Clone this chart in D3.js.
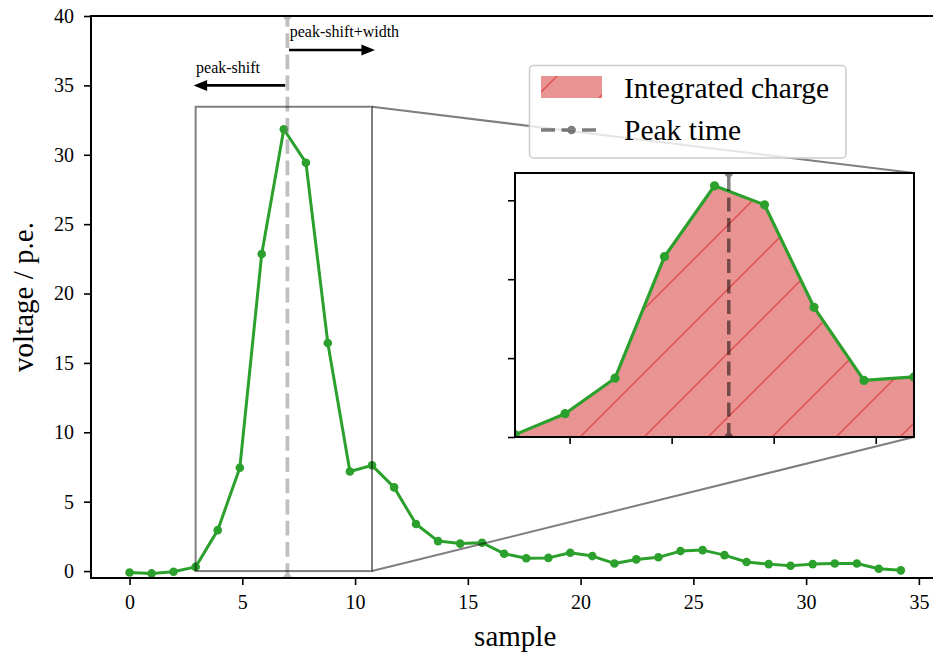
<!DOCTYPE html>
<html><head><meta charset="utf-8">
<script src="https://cdn.jsdelivr.net/npm/d3@7"></script>
<style>
html,body{margin:0;padding:0;background:#fff;}
svg{display:block;font-family:"Liberation Serif","DejaVu Serif",serif;}
</style></head><body>
<svg id="chart" width="933" height="658"></svg>
<script>
// Sample positions and the recorded pulse (voltage in p.e.)
const sampleX = [0, 0.98, 1.95, 2.93, 3.91, 4.89, 5.86, 6.84, 7.82, 8.79, 9.77, 10.75,
  11.73, 12.70, 13.68, 14.66, 15.63, 16.61, 17.59, 18.57, 19.54, 20.52, 21.50, 22.47,
  23.45, 24.43, 25.41, 26.38, 27.36, 28.34, 29.31, 30.29, 31.27, 32.25, 33.22, 34.20];
const voltage = [-0.1, -0.17, -0.05, 0.3, 2.95, 7.45, 22.85, 31.84, 29.43, 16.44, 7.17, 7.62,
  6.03, 3.39, 2.16, 1.98, 2.04, 1.25, 0.92, 0.95, 1.32, 1.08, 0.55, 0.84,
  0.99, 1.44, 1.51, 1.15, 0.65, 0.5, 0.38, 0.5, 0.55, 0.55, 0.17, 0.05];

const xTicks = [0, 5, 10, 15, 20, 25, 30, 35];
const yTicks = [0, 5, 10, 15, 20, 25, 30, 35, 40];
const insetXTicks = [4, 6, 8, 10];
const insetYTicks = [0, 10, 20, 30];

// Peak time as drawn in the main panel and in the zoomed panel
const peakTimeMain = 7.0;
const peakTimeInset = 7.12;
// Integration window (sample indices) and the zoom box top
const windowStart = 3, windowEnd = 11;
const zoomTop = 33.46;
// Annotation arrows: [from, to, y]
const shiftArrow = [6.9, 2.84, 35.0];
const widthArrow = [7.07, 10.88, 37.55];
const arrowLabels = ["peak-shift", "peak-shift+width"];
const legendLabels = ["Integrated charge", "Peak time"];

const svg = d3.select("#chart");
const plot = {left: 91, right: 939.4, top: 16, bottom: 578};
const x = d3.scaleLinear().domain([-1.71, 35.91]).range([plot.left, plot.right]);
const y = d3.scaleLinear().domain([-0.5, 40]).range([plot.bottom, plot.top]);

const defs = svg.append("defs");
defs.append("clipPath").attr("id", "mainClip").append("rect")
  .attr("x", plot.left).attr("y", plot.top)
  .attr("width", plot.right - plot.left).attr("height", plot.bottom - plot.top);

const inset = {x0: 515, y0: 173, x1: 914, y1: 437};
defs.append("clipPath").attr("id", "insetClip").append("rect")
  .attr("x", inset.x0).attr("y", inset.y0)
  .attr("width", inset.x1 - inset.x0).attr("height", inset.y1 - inset.y0);

// "/" hatch
const hatch = defs.append("pattern").attr("id", "hatch")
  .attr("patternUnits", "userSpaceOnUse").attr("x", 57).attr("y", 0)
  .attr("width", 64).attr("height", 64);
hatch.append("path")
  .attr("d", "M0,64 L64,0 M-4,4 L4,-4 M60,68 L68,60")
  .attr("stroke", "#d62728").attr("stroke-opacity", 0.6).attr("stroke-width", 1.5);

const red = "#d62728", green = "#2ca02c";

// ---- main panel ----
const main = svg.append("g").attr("clip-path", "url(#mainClip)");
const line = d3.line().x((d, i) => x(sampleX[i])).y(d => y(d));
main.append("path").datum(voltage).attr("d", line)
  .attr("fill", "none").attr("stroke", green).attr("stroke-width", 3)
  .attr("stroke-linejoin", "round");
main.selectAll("circle.pt").data(voltage).join("circle").attr("class", "pt")
  .attr("cx", (d, i) => x(sampleX[i])).attr("cy", d => y(d)).attr("r", 4.3)
  .attr("fill", green);

// peak time marker line
const pkMain = main.append("g").attr("opacity", 0.5);
pkMain.append("line").attr("x1", x(peakTimeMain)).attr("x2", x(peakTimeMain))
  .attr("y1", y(-0.5)).attr("y2", y(40))
  .attr("stroke", "#808080").attr("stroke-width", 3.7).attr("stroke-dasharray", "14.8,6.4");
pkMain.selectAll("circle").data([-0.5, 40]).join("circle")
  .attr("cx", x(peakTimeMain)).attr("cy", d => y(d)).attr("r", 4.2).attr("fill", "#808080");

// zoom box in the main panel
const x0z = sampleX[windowStart], x1z = sampleX[windowEnd];
svg.append("rect").attr("x", x(x0z)).attr("y", y(zoomTop))
  .attr("width", x(x1z) - x(x0z)).attr("height", y(0) - y(zoomTop))
  .attr("fill", "none").attr("stroke", "#000").attr("stroke-opacity", 0.5).attr("stroke-width", 2);

// connectors
svg.append("line").attr("x1", x(x1z)).attr("y1", y(zoomTop)).attr("x2", inset.x1).attr("y2", inset.y0)
  .attr("stroke", "#000").attr("stroke-opacity", 0.5).attr("stroke-width", 2);
svg.append("line").attr("x1", x(x1z)).attr("y1", y(0)).attr("x2", inset.x1).attr("y2", inset.y1)
  .attr("stroke", "#000").attr("stroke-opacity", 0.5).attr("stroke-width", 2);

// axes
const tickFont = 20;
const xAxis = svg.append("g").attr("transform", `translate(0,${plot.bottom})`)
  .call(d3.axisBottom(x).tickValues(xTicks).tickSize(7).tickPadding(10).tickFormat(d3.format("d")));
const yAxis = svg.append("g").attr("transform", `translate(${plot.left},0)`)
  .call(d3.axisLeft(y).tickValues(yTicks).tickSize(7).tickPadding(10).tickFormat(d3.format("d")));
[xAxis, yAxis].forEach(a => {
  a.select(".domain").remove();
  a.selectAll(".tick line").attr("stroke", "#000").attr("stroke-width", 1.6);
  a.selectAll(".tick text").attr("fill", "#000").style("font-size", tickFont + "px")
    .style("font-family", '"Liberation Serif", serif');
});
// spines
const spine = svg.append("g").attr("stroke", "#000").attr("stroke-width", 2).attr("stroke-linecap", "square");
spine.append("line").attr("x1", plot.left).attr("x2", plot.left).attr("y1", plot.top).attr("y2", plot.bottom);
spine.append("line").attr("x1", plot.left).attr("x2", plot.right).attr("y1", plot.bottom).attr("y2", plot.bottom);
spine.append("line").attr("x1", plot.left).attr("x2", plot.right).attr("y1", plot.top).attr("y2", plot.top);
spine.append("line").attr("x1", plot.right).attr("x2", plot.right).attr("y1", plot.top).attr("y2", plot.bottom);

// axis titles
svg.append("text").attr("x", (plot.left + plot.right) / 2).attr("y", 646)
  .attr("text-anchor", "middle").style("font-size", "29px").text("sample");
svg.append("text").attr("transform", `translate(33,${(plot.top + plot.bottom) / 2}) rotate(-90)`)
  .attr("text-anchor", "middle").style("font-size", "29px").text("voltage / p.e.");

// ---- inset panel ----
const xi = d3.scaleLinear().domain([x0z, x1z]).range([inset.x0, inset.x1]);
const yi = d3.scaleLinear().domain([0, zoomTop]).range([inset.y1, inset.y0]);
svg.append("rect").attr("x", inset.x0).attr("y", inset.y0)
  .attr("width", inset.x1 - inset.x0).attr("height", inset.y1 - inset.y0).attr("fill", "#fff");
const ig = svg.append("g").attr("clip-path", "url(#insetClip)");
const win = d3.range(windowStart, windowEnd + 1);
const area = d3.area().x(i => xi(sampleX[i])).y0(yi(0)).y1(i => yi(voltage[i]));
ig.append("path").datum(win).attr("d", area).attr("fill", red).attr("fill-opacity", 0.5);
ig.append("path").datum(win).attr("d", area).attr("fill", "url(#hatch)");
const lineI = d3.line().x((d, i) => xi(sampleX[i])).y(d => yi(d));
ig.append("path").datum(voltage).attr("d", lineI)
  .attr("fill", "none").attr("stroke", green).attr("stroke-width", 3.2).attr("stroke-linejoin", "round");
ig.selectAll("circle.pt").data(voltage).join("circle").attr("class", "pt")
  .attr("cx", (d, i) => xi(sampleX[i])).attr("cy", d => yi(d)).attr("r", 4.6).attr("fill", green);
const pkIn = ig.append("g").attr("opacity", 0.5);
pkIn.append("line").attr("x1", xi(peakTimeInset)).attr("x2", xi(peakTimeInset))
  .attr("y1", yi(0)).attr("y2", yi(zoomTop))
  .attr("stroke", "#000").attr("stroke-width", 3.5).attr("stroke-dasharray", "14,6.5");
pkIn.selectAll("circle").data([0, zoomTop]).join("circle")
  .attr("cx", xi(peakTimeInset)).attr("cy", d => yi(d)).attr("r", 4.2).attr("fill", "#000");

const ixAxis = svg.append("g").attr("transform", `translate(0,${inset.y1})`)
  .call(d3.axisBottom(xi).tickValues(insetXTicks).tickSize(7).tickFormat(""));
const iyAxis = svg.append("g").attr("transform", `translate(${inset.x0},0)`)
  .call(d3.axisLeft(yi).tickValues(insetYTicks).tickSize(7).tickFormat(""));
[ixAxis, iyAxis].forEach(a => {
  a.select(".domain").remove();
  a.selectAll(".tick line").attr("stroke", "#000").attr("stroke-width", 1.6);
});
svg.append("rect").attr("x", inset.x0).attr("y", inset.y0)
  .attr("width", inset.x1 - inset.x0).attr("height", inset.y1 - inset.y0)
  .attr("fill", "none").attr("stroke", "#000").attr("stroke-width", 2);

// ---- legend ----
const lg = svg.append("g");
lg.append("rect").attr("x", 529.5).attr("y", 65.5).attr("width", 316.5).attr("height", 92.5)
  .attr("rx", 4).attr("fill", "#fff").attr("fill-opacity", 0.8)
  .attr("stroke", "#cccccc").attr("stroke-width", 1.5);
lg.append("rect").attr("x", 541).attr("y", 76).attr("width", 61).attr("height", 22)
  .attr("fill", red).attr("fill-opacity", 0.5);
lg.append("rect").attr("x", 541).attr("y", 76).attr("width", 61).attr("height", 22)
  .attr("fill", "url(#hatch)");
const lgLine = lg.append("g").attr("opacity", 0.5);
lgLine.append("line").attr("x1", 541).attr("x2", 602).attr("y1", 130).attr("y2", 130)
  .attr("stroke", "#000").attr("stroke-width", 3.5).attr("stroke-dasharray", "14,6.5");
lgLine.append("circle").attr("cx", 571.5).attr("cy", 130).attr("r", 4.2).attr("fill", "#000");
lg.selectAll("text").data(legendLabels).join("text")
  .attr("x", 624).attr("y", (d, i) => 97.5 + i * 42.5)
  .style("font-size", "29.5px").text(d => d);

// ---- annotation arrows ----
[shiftArrow, widthArrow].forEach(a => {
  const dir = Math.sign(a[1] - a[0]);
  svg.append("line").attr("x1", x(a[0])).attr("y1", y(a[2]))
    .attr("x2", x(a[1]) - dir * 10).attr("y2", y(a[2]))
    .attr("stroke", "#000").attr("stroke-width", 2.6);
  svg.append("path").attr("d", d3.line()([
      [x(a[1]) - dir * 13.5, y(a[2]) - 5.5], [x(a[1]), y(a[2])], [x(a[1]) - dir * 13.5, y(a[2]) + 5.5]]) + "Z")
    .attr("fill", "#000");
});
svg.append("text").attr("x", x(2.95)).attr("y", y(35.9)).style("font-size", "16px").text(arrowLabels[0]);
svg.append("text").attr("x", x(7.1)).attr("y", y(38.5)).style("font-size", "16px").text(arrowLabels[1]);
</script>
</body></html>
